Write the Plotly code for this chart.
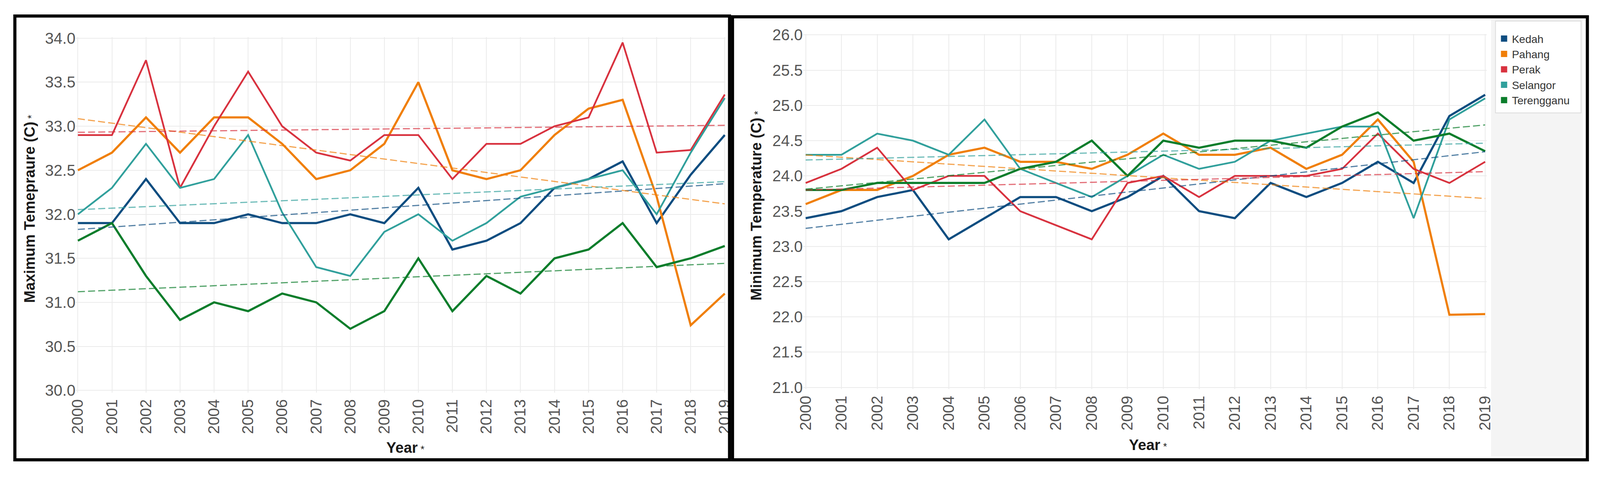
import numpy as np
import plotly.graph_objects as go

W, H = 4303, 1221

years = list(range(2000, 2020))
year_labels = [str(y) for y in years]
states = ["Kedah", "Pahang", "Perak", "Selangor", "Terengganu"]
colors = {"Kedah": "#0e4d80", "Pahang": "#f07f0a", "Perak": "#d8323f",
          "Selangor": "#31a09c", "Terengganu": "#0b7d2b"}

# Maximum temperature (left chart)
max_kedah = [31.9, 31.9, 32.4, 31.9, 31.9, 32.0, 31.9, 31.9, 32.0, 31.9,
             32.3, 31.6, 31.7, 31.9, 32.3, 32.4, 32.6, 31.9, 32.45, 32.9]
max_pahang = [32.5, 32.7, 33.1, 32.7, 33.1, 33.1, 32.8, 32.4, 32.5, 32.8,
              33.5, 32.5, 32.4, 32.5, 32.9, 33.2, 33.3, 32.2, 30.74, 31.1]
max_perak = [32.9, 32.9, 33.75, 32.3, 33.0, 33.62, 33.0, 32.7, 32.61, 32.9,
             32.9, 32.4, 32.8, 32.8, 33.0, 33.1, 33.95, 32.7, 32.73, 33.36]
max_selangor = [32.0, 32.3, 32.8, 32.3, 32.4, 32.9, 32.02, 31.4, 31.3, 31.8,
                32.0, 31.7, 31.9, 32.2, 32.3, 32.4, 32.5, 32.0, 32.7, 33.32]
max_terengganu = [31.7, 31.9, 31.3, 30.8, 31.0, 30.9, 31.1, 31.0, 30.7, 30.9,
                  31.5, 30.9, 31.3, 31.1, 31.5, 31.6, 31.9, 31.4, 31.5, 31.64]

# Minimum temperature (right chart)
min_kedah = [23.4, 23.5, 23.7, 23.8, 23.1, 23.4, 23.7, 23.7, 23.5, 23.7,
             24.0, 23.5, 23.4, 23.9, 23.7, 23.9, 24.2, 23.9, 24.85, 25.15]
min_pahang = [23.6, 23.8, 23.8, 24.0, 24.3, 24.4, 24.2, 24.2, 24.1, 24.3,
              24.6, 24.3, 24.3, 24.4, 24.1, 24.3, 24.8, 24.2, 22.03, 22.04]
min_perak = [23.9, 24.1, 24.4, 23.8, 24.0, 24.0, 23.5, 23.3, 23.1, 23.9,
             24.0, 23.7, 24.0, 24.0, 24.0, 24.1, 24.6, 24.1, 23.9, 24.2]
min_selangor = [24.3, 24.3, 24.6, 24.5, 24.3, 24.8, 24.1, 23.9, 23.7, 24.0,
                24.3, 24.1, 24.2, 24.5, 24.6, 24.7, 24.7, 23.4, 24.8, 25.1]
min_terengganu = [23.8, 23.8, 23.9, 23.9, 23.9, 23.9, 24.1, 24.2, 24.5, 24.0,
                  24.5, 24.4, 24.5, 24.5, 24.4, 24.7, 24.9, 24.5, 24.6, 24.35]

max_data = {"Kedah": max_kedah, "Pahang": max_pahang, "Perak": max_perak,
            "Selangor": max_selangor, "Terengganu": max_terengganu}
min_data = {"Kedah": min_kedah, "Pahang": min_pahang, "Perak": min_perak,
            "Selangor": min_selangor, "Terengganu": min_terengganu}

max_ticks = [30.0, 30.5, 31.0, 31.5, 32.0, 32.5, 33.0, 33.5, 34.0]
min_ticks = [21.0, 21.5, 22.0, 22.5, 23.0, 23.5, 24.0, 24.5, 25.0, 25.5, 26.0]

fig = go.Figure()

xarr = np.array(years, dtype=float)


def add_chart(data, xa, ya, widths):
    for s in states:
        fig.add_trace(go.Scatter(x=years, y=data[s], mode="lines", xaxis=xa, yaxis=ya,
                                 line=dict(color=colors[s], width=widths.get(s, 5.5)),
                                 showlegend=False, name=s))
    for s in states:
        k, b = np.polyfit(xarr, np.array(data[s]), 1)
        fig.add_trace(go.Scatter(x=years, y=list(k * xarr + b), mode="lines", xaxis=xa, yaxis=ya,
                                 line=dict(color=colors[s], width=3, dash="18px,8px"),
                                 opacity=0.7, showlegend=False, hoverinfo="skip"))


add_chart(max_data, "x", "y", {"Perak": 4.5, "Selangor": 4.5})
add_chart(min_data, "x2", "y2", {"Perak": 4.5, "Selangor": 4.5})

for s in states:
    fig.add_trace(go.Scatter(x=[None], y=[None], mode="markers", xaxis="x2", yaxis="y2",
                             marker=dict(symbol="square", size=19, color=colors[s]),
                             name=s, showlegend=True))

tickfont = dict(family="Liberation Sans, Arial, sans-serif", size=40, color="#555555")
grid = dict(showgrid=True, gridcolor="#ebebeb", gridwidth=2, zeroline=False,
            showline=False, ticks="", tickfont=tickfont, fixedrange=True, automargin=False)

fig.update_layout(
    autosize=True,
    margin=dict(l=0, r=0, t=0, b=0, autoexpand=False),
    paper_bgcolor="white", plot_bgcolor="white",
    xaxis=dict(domain=[204 / W, 1951 / W], range=[1999.94, 2019.02], tickmode="array",
               tickvals=years, ticktext=year_labels, tickangle=-90, anchor="y",
               ticklabelstandoff=8, **grid),
    yaxis=dict(domain=[1 - 1005 / H, 1 - 95 / H], range=[29.975, 34.012], tickmode="array",
               tickvals=max_ticks, ticktext=[f"{v:.1f}" for v in max_ticks], anchor="x", **grid),
    xaxis2=dict(domain=[2160 / W, 3998 / W], range=[1999.93, 2019.04], tickmode="array",
                tickvals=years, ticktext=year_labels, tickangle=-90, anchor="y2",
                ticklabelstandoff=8, **grid),
    yaxis2=dict(domain=[1 - 996 / H, 1 - 87 / H], range=[20.976, 26.013], tickmode="array",
                tickvals=min_ticks, ticktext=[f"{v:.1f}" for v in min_ticks], anchor="x2", **grid),
    legend=dict(x=4024 / W, y=1 - 74 / H, xanchor="left", yanchor="top",
                bgcolor="rgba(0,0,0,0)", borderwidth=0,
                font=dict(family="Liberation Sans, Arial, sans-serif", size=28, color="#333333")),
    showlegend=True,
)

shapes = [
    # legend panel background
    dict(type="rect", xref="paper", yref="paper", x0=4010 / W, x1=4257 / W,
         y0=1 - 1168 / H, y1=1 - 48 / H, fillcolor="#f4f4f4", line=dict(width=0), layer="below"),
    dict(type="rect", xref="paper", yref="paper", x0=4022 / W, x1=4252 / W,
         y0=1 - 289 / H, y1=1 - 54 / H, fillcolor="white", line=dict(color="#dcdcdc", width=2),
         layer="below"),
    # panel borders
    dict(type="rect", xref="paper", yref="paper", x0=40 / W, x1=1962 / W,
         y0=1 - 1177 / H, y1=1 - 41 / H, line=dict(color="black", width=8)),
    dict(type="rect", xref="paper", yref="paper", x0=1970 / W, x1=4269 / W,
         y0=1 - 1177 / H, y1=1 - 43 / H, line=dict(color="black", width=8)),
]
fig.update_layout(shapes=shapes)

title_font = dict(family="Liberation Sans, Arial, sans-serif", size=38, color="#1a1a1a")
star = "<span style='font-size:26px'> *</span>"
annotations = [
    dict(text="<b>Maximum Temepraure (C)</b>" + star, x=80 / W, y=1 - 535 / H, textangle=-90),
    dict(text="<b>Minimum Temperature (C)</b>" + star, x=2034 / W, y=1 - 527 / H, textangle=-90),
    dict(text="<b>Year</b>" + star, x=1090 / W, y=1 - 1146 / H, textangle=0),
    dict(text="<b>Year</b>" + star, x=3088 / W, y=1 - 1139 / H, textangle=0),
]
for a in annotations:
    a.update(xref="paper", yref="paper", showarrow=False, font=title_font,
             xanchor="center", yanchor="middle")
fig.update_layout(annotations=annotations)

post = ("document.documentElement.style.margin='0';document.body.style.margin='0';"
        "document.body.style.overflow='hidden';"
        "var gd=document.getElementById('{plot_id}');"
        "gd.style.width='100vw';gd.style.height='100vh';"
        "Plotly.relayout(gd,{width:window.innerWidth,height:window.innerHeight});")

fig.write_html("out.html", default_width="100vw", default_height="100vh",
               config={"responsive": True, "displayModeBar": False}, post_script=post)
